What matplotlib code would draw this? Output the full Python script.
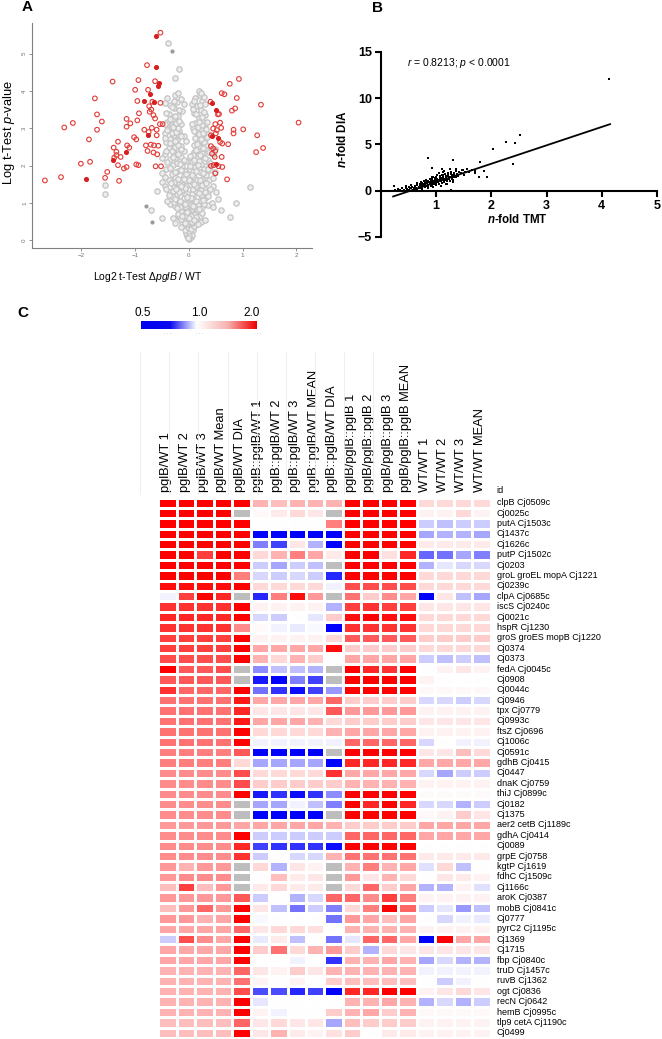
import matplotlib
matplotlib.use("Agg")
import matplotlib.pyplot as plt
import numpy as np
from matplotlib.colors import LinearSegmentedColormap
from matplotlib.lines import Line2D

plt.rcParams['font.family'] = ['Liberation Sans', 'DejaVu Sans']
plt.rcParams['mathtext.fontset'] = 'custom'
plt.rcParams['mathtext.rm'] = 'Liberation Sans'
plt.rcParams['mathtext.it'] = 'Liberation Sans:italic'
plt.rcParams['mathtext.bf'] = 'Liberation Sans:bold'
plt.rcParams['mathtext.bfit'] = 'Liberation Sans:italic:bold'

# ---------------- panel A: volcano plot (log2 ratio, -log p) ----------------
red_open = [(-0.53, 5.56), (-0.78, 4.69), (-1.42, 4.25), (-0.94, 4.29), (-0.63, 4.26), (-1.0, 4.03),
            (-0.76, 4.03), (-1.75, 3.80), (-0.96, 3.73), (-0.68, 3.71), (-0.74, 3.59), (-0.53, 3.68),
            (-1.71, 3.37), (-0.93, 3.40), (-0.73, 3.44), (-0.70, 3.50), (-0.66, 3.35), (-1.62, 3.18),
            (-2.16, 3.14), (-2.32, 3.02), (-1.16, 3.25), (-1.09, 3.13), (-1.16, 3.04), (-0.96, 3.21),
            (-0.63, 3.26), (-0.54, 3.11), (-0.49, 3.11), (-1.71, 2.96), (-0.83, 2.96), (-0.75, 2.90),
            (-0.69, 3.01), (-0.60, 2.96), (-0.60, 2.81), (-1.02, 2.76), (-0.98, 2.70), (-1.86, 2.70),
            (-1.32, 2.64), (-1.15, 2.54), (-1.11, 2.48), (-1.40, 2.48), (-0.80, 2.54), (-0.71, 2.56),
            (-0.65, 2.54), (-0.57, 2.53), (-1.35, 2.37), (-0.77, 2.39), (-0.66, 2.35), (-0.59, 2.30),
            (-1.35, 2.28), (-1.39, 2.21), (-1.27, 2.23), (-1.84, 2.10), (-2.01, 2.05), (-0.98, 2.03),
            (-0.94, 2.01), (-1.32, 2.01), (-1.21, 1.92), (-1.16, 1.96), (-0.62, 1.98), (-0.52, 1.98),
            (-1.52, 1.83), (-1.56, 1.67), (-1.30, 1.59), (-2.38, 1.69), (-2.68, 1.60),
            (0.40, 3.71), (0.54, 3.37), (0.56, 3.38), (0.61, 3.94), (0.66, 3.91), (0.76, 4.19),
            (0.93, 4.32), (0.89, 3.81), (0.86, 3.53), (0.80, 3.47), (1.34, 3.63), (2.04, 3.15),
            (0.49, 3.11), (0.58, 3.15), (0.45, 2.99), (0.52, 2.95), (0.60, 3.01), (0.41, 2.81),
            (0.50, 2.86), (0.58, 2.63), (0.62, 2.59), (0.83, 2.96), (1.01, 2.97), (0.83, 2.86),
            (1.27, 2.81), (0.73, 2.57), (0.41, 2.52), (0.45, 2.46), (0.49, 2.39), (0.43, 2.32),
            (0.48, 2.23), (0.61, 2.23), (1.25, 2.36), (1.38, 2.47), (0.41, 1.99), (0.46, 2.01),
            (0.55, 1.98), (0.62, 1.96), (0.49, 1.79), (0.71, 1.63)]
red_filled = [(-0.61, 5.47), (-0.61, 4.64), (-0.55, 4.22), (-0.57, 4.13), (-0.73, 3.91), (-0.84, 3.73),
              (-0.65, 3.70), (-0.77, 2.81), (-1.17, 2.36), (-1.42, 2.16), (-1.92, 1.63), (0.42, 3.68),
              (0.50, 3.48), (0.43, 2.79), (0.55, 2.75), (0.50, 2.04)]
gray_open = [
    (0.0, 0.02), (0.03, 0.08), (-0.03, 0.1), (0.05, 0.15), (-0.05, 0.18), (0.01, 0.22), (0.07, 0.26),
    (-0.07, 0.28), (0.02, 0.32), (-0.02, 0.36), (0.0, 0.12), (-0.01, 0.05), (0.04, 0.3), (-0.04, 0.42),
    (0.1, 0.38), (-0.1, 0.42), (0.05, 0.45), (-0.12, 0.5), (0.13, 0.52), (-0.05, 0.55), (0.08, 0.6),
    (-0.18, 0.62), (0.2, 0.65), (0.0, 0.68), (-0.25, 0.45), (0.22, 0.5), (0.12, 0.7), (-0.1, 0.72),
    (0.3, 0.55), (-0.3, 0.6), (0.02, 0.5), (-0.06, 0.64), (0.16, 0.42), (-0.15, 0.35),
    (-0.15, 0.78), (0.15, 0.8), (0.05, 0.84), (-0.05, 0.88), (0.25, 0.9), (-0.25, 0.92), (0.35, 0.95),
    (-0.35, 0.98), (0.1, 1.0), (-0.12, 1.02), (0.2, 1.05), (-0.2, 1.08), (0.0, 1.1), (0.3, 1.12),
    (-0.3, 1.15), (0.08, 1.18), (-0.08, 1.2), (0.42, 1.0), (-0.4, 1.05), (0.16, 0.95), (-0.17, 0.9),
    (0.03, 0.95), (-0.02, 0.78), (0.1, 0.88), (-0.1, 1.12), (0.24, 1.18),
    (0.22, 1.22), (-0.22, 1.25), (0.35, 1.28), (-0.35, 1.3), (0.12, 1.32), (-0.12, 1.35), (0.0, 1.38),
    (0.28, 1.4), (-0.28, 1.42), (0.45, 1.45), (-0.45, 1.46), (0.18, 1.5), (-0.18, 1.52), (0.05, 1.55),
    (-0.05, 1.58), (0.38, 1.6), (-0.38, 1.62), (0.25, 1.65), (-0.25, 1.68), (0.1, 1.7), (-0.1, 1.72),
    (0.32, 1.75), (-0.32, 1.78), (0.5, 1.3), (-0.5, 1.55), (0.06, 1.25), (-0.06, 1.45), (0.15, 1.6),
    (-0.15, 1.62), (0.22, 1.35), (-0.28, 1.56),
    (0.2, 1.82), (-0.2, 1.85), (0.4, 1.88), (-0.42, 1.9), (0.0, 1.92), (0.12, 1.95), (-0.12, 1.98),
    (0.3, 2.0), (-0.3, 2.02), (0.22, 2.05), (-0.22, 2.08), (0.05, 2.1), (-0.05, 2.12), (0.35, 2.15),
    (-0.35, 2.18), (0.15, 2.2), (-0.15, 2.22), (0.27, 2.25), (-0.27, 2.28), (0.45, 2.3), (-0.45, 2.32),
    (0.1, 2.35), (-0.1, 2.38), (0.2, 2.4), (-0.2, 2.42), (0.32, 2.45), (-0.38, 2.48), (0.28, 1.9),
    (-0.08, 1.86), (0.18, 2.12), (-0.25, 2.2), (0.08, 2.28), (-0.32, 2.4), (0.25, 2.34),
    (-0.15, 2.52), (0.1, 2.55), (-0.3, 2.58), (0.25, 2.6), (-0.42, 2.62), (0.18, 2.65), (-0.22, 2.68),
    (0.3, 2.7), (-0.35, 2.72), (0.12, 2.75), (-0.1, 2.78), (0.22, 2.8), (-0.28, 2.82), (0.35, 2.85),
    (-0.45, 2.88), (0.15, 2.9), (-0.18, 2.92), (0.28, 2.95), (-0.38, 2.98), (0.08, 3.0), (-0.25, 3.02),
    (0.2, 3.05), (-0.32, 3.08), (0.3, 3.1), (-0.15, 3.12), (0.12, 3.15), (-0.4, 3.18), (0.25, 3.2),
    (0.32, 2.55), (-0.2, 2.85), (0.22, 2.98), (-0.3, 2.95), (0.18, 2.52), (-0.05, 2.65),
    (-0.3, 3.25), (0.18, 3.28), (-0.2, 3.32), (0.3, 3.35), (-0.38, 3.38), (0.1, 3.42), (-0.12, 3.45),
    (0.22, 3.5), (-0.28, 3.55), (0.15, 3.6), (-0.35, 3.62), (0.05, 3.65), (-0.22, 3.7), (0.25, 3.72),
    (-0.15, 3.78), (0.12, 3.8), (-0.4, 3.82), (0.2, 3.88), (0.18, 4.0), (-0.25, 3.9), (0.28, 3.85),
    (-0.39, 5.29), (-0.19, 4.58), (-0.25, 4.35), (-1.57, 1.49), (-1.57, 1.25), (1.13, 1.42),
    (0.88, 0.99), (0.76, 0.63), (-0.70, 0.82), (-0.59, 1.31), (0.45, 0.9), (0.6, 0.8), (-0.5, 0.6),
    (0.55, 1.1)]
gray_core = [
    (-0.08, 0.46), (0.06, 0.5), (-0.14, 0.58), (0.14, 0.62), (0.04, 0.66), (-0.2, 0.7), (0.24, 0.74),
    (-0.04, 0.76), (0.18, 0.84), (-0.22, 0.86), (0.08, 0.92), (-0.08, 0.96), (0.28, 0.98), (-0.28, 1.02),
    (0.0, 0.6), (0.1, 0.55), (-0.12, 0.64),
    (0.14, 1.04), (-0.16, 1.06), (0.26, 1.08), (-0.26, 1.1), (0.04, 1.14), (-0.04, 1.16), (0.36, 1.18),
    (-0.38, 1.2), (0.18, 1.26), (-0.18, 1.28), (0.3, 1.3), (-0.3, 1.32), (0.08, 1.36), (-0.08, 1.4),
    (0.4, 1.36), (-0.42, 1.38), (0.14, 1.44), (-0.14, 1.46), (0.24, 1.48), (-0.24, 1.36),
    (0.32, 1.52), (-0.34, 1.54), (0.0, 1.6), (0.2, 1.62), (-0.2, 1.64), (0.44, 1.66), (-0.44, 1.7),
    (0.06, 1.74), (-0.06, 1.78), (0.26, 1.8), (-0.26, 1.82), (0.14, 1.86), (-0.14, 1.88), (0.36, 1.92),
    (-0.36, 1.94), (0.02, 1.98), (0.48, 1.84), (-0.5, 1.8), (0.1, 1.5), (-0.1, 1.65),
    (0.16, 2.02), (-0.16, 2.04), (0.4, 2.06), (-0.4, 2.1), (0.1, 2.14), (-0.1, 2.16), (0.3, 2.2),
    (-0.3, 2.24), (0.2, 2.28), (-0.2, 2.3), (0.38, 2.36), (-0.42, 2.38), (0.14, 2.42), (-0.14, 2.44),
    (0.26, 2.48), (-0.26, 2.5), (0.02, 2.25), (0.48, 2.44), (-0.5, 2.2),
    (-0.2, 2.56), (0.15, 2.58), (-0.36, 2.6), (0.28, 2.62), (-0.26, 2.66), (0.22, 2.7), (-0.44, 2.74),
    (0.34, 2.76), (-0.14, 2.8), (0.18, 2.84), (-0.32, 2.86), (0.26, 2.88), (-0.24, 2.9), (0.1, 2.92),
    (-0.4, 2.94), (0.32, 2.98), (-0.2, 3.0), (0.16, 3.02), (-0.3, 3.04), (0.24, 3.08), (-0.45, 3.1),
    (0.06, 3.12), (-0.24, 3.14), (0.34, 3.16), (-0.18, 3.2), (0.18, 3.18),
    (-0.35, 3.26), (0.24, 3.3), (-0.25, 3.34), (0.14, 3.38), (-0.42, 3.42), (0.28, 3.44), (-0.18, 3.48),
    (0.08, 3.52), (-0.32, 3.58), (0.2, 3.62), (-0.1, 3.66), (0.3, 3.66), (-0.28, 3.74), (0.1, 3.74),
    (-0.45, 3.68), (0.22, 3.95), (-0.2, 3.95)]
gray_filled = [(-0.31, 5.06), (-0.80, 0.91), (-0.69, 0.49)]

# ---------------- panel B: n-fold TMT vs n-fold DIA ----------------
tmt_dia = [
    (0.3, 0.15), (0.35, 0.05), (0.38, 0.25), (0.42, 0.1), (0.45, 0.3), (0.48, 0.2), (0.5, 0.05),
    (0.52, 0.35), (0.55, 0.25), (0.57, 0.45), (0.6, 0.3), (0.6, 0.15), (0.62, 0.5), (0.64, 0.35),
    (0.66, 0.6), (0.68, 0.45), (0.7, 0.3), (0.7, 0.7), (0.72, 0.55), (0.74, 0.4), (0.75, 0.8),
    (0.76, 0.65), (0.78, 0.5), (0.8, 0.9), (0.8, 0.7), (0.82, 0.55), (0.83, 1.0), (0.84, 0.8),
    (0.85, 0.6), (0.86, 1.1), (0.87, 0.9), (0.88, 0.7), (0.9, 1.2), (0.9, 1.0), (0.9, 0.8),
    (0.92, 0.6), (0.93, 1.3), (0.94, 1.1), (0.95, 0.9), (0.96, 0.7), (0.97, 1.4), (0.98, 1.2),
    (1.0, 1.0), (1.0, 0.8), (1.0, 1.5), (1.02, 1.3), (1.03, 1.1), (1.04, 0.9), (1.05, 0.7),
    (1.06, 1.6), (1.07, 1.4), (1.08, 1.2), (1.09, 1.0), (1.1, 0.8), (1.1, 1.7), (1.12, 1.5),
    (1.13, 1.3), (1.14, 1.1), (1.15, 0.9), (1.16, 1.8), (1.17, 1.6), (1.18, 1.4), (1.19, 1.2),
    (1.2, 1.0), (1.21, 1.9), (1.22, 1.7), (1.23, 1.5), (1.24, 1.3), (1.25, 1.1), (1.26, 2.0),
    (1.27, 1.8), (1.28, 1.6), (1.29, 1.4), (1.3, 1.2), (1.32, 1.9), (1.33, 1.7), (1.35, 1.5),
    (1.36, 2.1), (1.38, 1.8), (1.4, 1.6), (1.42, 2.0), (1.45, 1.9), (1.48, 2.2), (1.5, 1.7),
    (1.52, 2.0), (1.55, 2.3), (0.25, 0.1), (0.45, 0.5), (0.55, 0.6), (0.65, 0.8), (0.78, 1.1),
    (0.88, 1.3), (0.95, 1.5), (1.05, 1.9), (1.15, 2.1), (0.85, 0.3), (0.95, 0.4), (1.08, 0.55),
    (1.2, 0.7), (1.3, 0.9), (1.6, 2.0), (1.65, 2.2), (1.7, 1.9), (0.72, 0.95), (0.82, 1.2),
    (1.12, 2.0), (1.25, 2.3), (1.35, 2.4), (1.0, 0.6), (0.92, 1.45), (1.18, 0.75),
    (0.75, 0.6), (0.85, 0.95), (0.95, 1.05), (1.05, 1.15), (1.15, 1.25), (1.25, 1.45), (0.8, 0.4),
    (0.9, 0.5), (1.0, 1.2), (1.1, 1.35), (1.2, 1.55), (1.3, 1.65), (0.7, 0.5), (0.78, 0.75),
    (0.88, 0.85), (0.98, 0.95), (1.08, 1.05), (1.18, 1.15), (1.28, 1.25), (0.92, 1.15), (1.02, 1.65),
    (1.12, 1.75), (1.22, 1.85), (1.32, 1.45), (0.65, 0.2), (0.75, 0.2), (0.85, 0.45), (0.4, 0.0),
    (0.5, 0.4), (0.58, 0.1),
    (4.13, 12.07), (2.52, 6.0), (2.26, 5.25), (2.42, 5.18), (2.02, 4.5), (2.39, 2.9), (1.80, 3.08),
    (1.92, 1.45), (1.77, 1.45), (0.86, 3.5), (1.31, 3.33), (0.23, 0.5), (1.26, 0.07), (0.93, 2.5),
    (1.11, 2.36), (1.46, 2.2), (1.70, 2.1), (1.86, 2.15)]
fit_x = [0.22, 4.15]
fit_y = [-0.62, 7.2]

# ---------------- panel C: heatmap (log2 ratio, None = not quantified) ----------------
protein_ids = ["clpB Cj0509c", "Cj0025c", "putA Cj1503c", "Cj1437c", "Cj1626c", "putP Cj1502c",
               "Cj0203", "groL groEL mopA Cj1221", "Cj0239c", "clpA Cj0685c", "iscS Cj0240c",
               "Cj0021c", "hspR Cj1230", "groS groES mopB Cj1220", "Cj0374", "Cj0373",
               "fedA Cj0045c", "Cj0908", "Cj0044c", "Cj0946", "tpx Cj0779", "Cj0993c",
               "ftsZ Cj0696", "Cj1006c", "Cj0591c", "gdhB Cj0415", "Cj0447", "dnaK Cj0759",
               "thiJ Cj0899c", "Cj0182", "Cj1375", "aer2 cetB Cj1189c", "gdhA Cj0414", "Cj0089",
               "grpE Cj0758", "kgtP Cj1619", "fdhC Cj1509c", "Cj1166c", "aroK Cj0387",
               "mobB Cj0841c", "Cj0777", "pyrC2 Cj1195c", "Cj1369", "Cj1715", "fbp Cj0840c",
               "truD Cj1457c", "ruvB Cj1362", "ogt Cj0836", "recN Cj0642", "hemB Cj0995c",
               "tlp9 cetA Cj1190c", "Cj0499"]
columns = ["pglB/WT 1", "pglB/WT 2", "pglB/WT 3", "pglB/WT Mean", "pglB/WT DIA",
           "pglB::pglB/WT 1", "pglB::pglB/WT 2", "pglB::pglB/WT 3", "pglB::pglB/WT MEAN",
           "pglB::pglB/WT DIA", "pglB/pglB::pglB 1", "pglB/pglB::pglB 2", "pglB/pglB::pglB 3",
           "pglB/pglB::pglB MEAN", "WT/WT 1", "WT/WT 2", "WT/WT 3", "WT/WT MEAN"]

pglb_wt = [
    [1, 1, 1, 1, 1], [1, 1, 1, 1, None], [1, 1, 1, 1, 1], [1, 1, 1, 1, 1], [1, 1, 1, 1, 1],
    [1, 1, .75, 1, 1], [1, 1, 1, 1, 1], [1, 1, 1, 1, .5], [.95, .95, .95, .95, 1],
    [-.05, .75, 1, .85, None], [.8, .8, .8, .8, 1], [.85, .85, .85, .85, 1], [.8, .8, .8, .8, .45],
    [.75, .75, .75, .75, 1], [.75, .75, .75, .75, 1], [.7, .7, .7, .7, 1], [1, .65, .65, .7, None],
    [.65, .65, .65, .65, None], [.8, .6, .6, .6, 1], [.55, .55, .55, .55, .9], [.55, .55, .55, .55, .85],
    [.55, .55, .55, .55, .9], [.55, .55, .55, .55, 1], [.55, .55, .55, .55, 1], [.5, .5, .5, .5, .65],
    [.5, .5, .5, .5, .15], [.45, .45, .45, .45, .7], [.45, .45, .45, .45, .7], [.45, .45, .45, .45, 1],
    [.45, .45, .45, .45, None], [.45, .45, .45, .45, None], [.4, .4, .4, .4, .35], [.45, .45, .45, .45, 1],
    [.45, .45, .45, .45, .85], [.45, .45, .45, .45, .8], [.4, .3, .4, .4, None], [.4, .45, .45, .45, None],
    [.25, .75, .25, .4, None], [.4, .4, .4, .4, .65], [.25, .4, .6, .4, 1], [.4, .4, .3, .35, 1],
    [.35, .35, .35, .35, .6], [-.2, .7, .45, .35, 1], [.35, .35, .35, .35, 1], [.35, .35, .35, .35, 1],
    [.3, .3, .3, .3, .6], [.3, .3, .3, .3, .55], [.3, .3, .3, .3, .7], [.3, .3, .3, .3, 1],
    [.3, .3, .3, .3, 1], [.25, .25, .25, .25, .6], [.25, .25, .25, .25, 1]]
comp_wt = [
    [.3, .25, .3, .3, .3], [.03, .08, .15, .1, None], [0, 0, 0, 0, .5], [-1, -1, -1, -1, -1],
    [-.5, -.75, .1, -.3, -1], [.15, .3, .5, .35, .08], [-.2, -.35, -.2, -.25, None],
    [-.15, -.2, -.15, -.2, -.85], [.15, .15, .15, .15, -.05], [-.85, .5, .95, .4, None],
    [.05, .05, .05, .05, -.3], [-.15, -.2, 0, -.1, .2], [.02, -.05, -.08, -.03, -1],
    [.05, .05, .05, .05, .15], [.35, .35, .35, .35, .95], [.3, .15, .3, .2, 0],
    [-.45, -.25, -.25, -.3, None], [-.9, -1, -.5, -.75, None], [-.55, -.8, -.95, -.75, -.4],
    [.35, .35, .35, .35, .6], [.1, .1, .1, .1, .65], [.35, .35, .35, .3, .15], [.15, .15, .15, .15, .3],
    [-.05, -.05, -.05, -.05, -.05], [-1, -1, -1, -1, None], [-.35, -.35, -.35, -.35, -1],
    [.15, .15, .15, .15, .8], [.2, .2, .2, .2, .2], [-.9, -.8, -.95, -.8, -.45],
    [-.35, -.35, -.05, -.25, -.5], [-1, -1, -1, -1, None], [.35, .35, .35, .35, .3],
    [-.2, -.2, -.2, -.2, -.2], [-.75, -.8, -.8, -.8, -.95], [-.2, 0, -.15, -.15, .3],
    [.15, -.3, .1, .05, None], [0, .25, .08, .1, None], [.08, .15, .08, .08, None],
    [-.2, 0, -.3, -.15, .6], [.1, -.25, -.55, -.2, -.5], [-.03, 0, 0, 0, -.55],
    [.1, .15, .15, .12, 0], [-.08, .08, -.25, 0, -.55], [.2, .55, .15, .3, .4], [0, 0, -.05, 0, -.8],
    [.1, .05, .2, .1, .3], [.05, 0, .05, 0, .2], [-.7, -.7, -.85, -.75, -1], [-.1, 0, 0, 0, 0],
    [.05, -.05, 0, 0, .2], [.1, .15, .1, .1, -.35], [.1, .3, .08, .05, .12]]
pglb_comp = [
    [1, 1, 1, 1], [1, 1, 1, 1], [1, 1, 1, 1], [1, 1, 1, 1], [1, 1, 1, 1], [1, 1, .12, .85],
    [1, 1, 1, 1], [1, 1, 1, 1], [.7, .7, .7, .7], [.55, .2, .45, .35], [.75, .8, .75, .75],
    [.95, 1, .95, .95], [.8, .8, .8, .8], [.65, .65, .65, .65], [.2, .2, .2, .2], [.35, .35, .35, .35],
    [1, .85, .8, 1], [1, 1, 1, 1], [1, 1, 1, 1], [.2, .2, .2, .2], [.4, .4, .4, .4], [.2, .2, .2, .2],
    [.35, .35, .35, .35], [.6, .6, .6, .6], [1, 1, 1, 1], [.85, .85, .85, .85], [.35, .35, .35, .35],
    [.3, .3, .3, .3], [1, 1, 1, 1], [1, .85, 1, .85], [1, 1, 1, 1], [.2, .2, .2, .2], [.6, .6, .6, .6],
    [1, 1, 1, 1], [.55, .55, .55, .55], [.3, .5, .3, .35], [.4, .1, .3, .15], [.15, .6, .2, .35],
    [.6, .45, .75, .5], [.15, .5, 1, .6], [.4, .35, .25, .35], [.3, .3, .3, .3], [-.1, .6, .6, .35],
    [.2, -.3, .15, .1], [.3, .3, .35, .3], [.3, .3, .3, .3], [.25, .25, .25, .25], [.85, .85, 1, 1],
    [.3, .3, .35, .3], [.3, .35, .2, .3], [.25, .2, .2, .2], [.2, 0, .08, .08]]
wt_wt = [
    [.15, .15, .15, .15], [.05, .05, .15, .05], [-.2, -.25, -.2, -.2], [-.35, -.3, -.3, -.35],
    [.08, .08, .08, .08], [-.6, -.55, -.35, -.5], [-.3, -.1, -.15, -.15], [.15, .15, .15, .15],
    [.15, .15, .15, .15], [-1, .1, -.25, -.35], [.1, .1, .1, .1], [.15, .15, .15, .15],
    [.15, .15, .15, .15], [.2, .2, .2, .2], [.15, .15, .15, .15], [-.2, -.25, -.2, -.25],
    [0, .05, .1, .05], [.05, 0, 0, 0], [.03, .03, .03, .03], [-.15, -.15, -.2, -.15],
    [.05, .05, .05, .05], [.1, .1, .1, .1], [.05, .05, .05, .05], [-.15, 0, -.05, -.05],
    [.1, .1, .25, .15], [.35, .35, .35, .35], [-.15, -.35, -.2, -.2], [.05, .05, .05, .05],
    [.02, .02, .02, .02], [-.15, -.15, -.3, -.2], [.03, .05, .2, .1], [.35, .35, .35, .35],
    [.35, .35, .35, .35], [0, 0, 0, 0], [.08, .08, .08, .08], [-.12, .15, -.25, 0], [0, .1, .08, .05],
    [-.3, -.3, .05, -.12], [.05, .05, .05, .05], [-.2, -.1, -.4, -.25], [0, -.15, -.05, -.08],
    [.05, .05, .05, .05], [-1, 1, .35, .35], [.1, .1, .1, .1], [-.35, -.15, -.3, -.3],
    [-.05, -.05, -.05, -.05], [0, -.2, -.05, 0], [.05, .1, .15, .1], [-.3, -.15, -.3, -.2],
    [.03, .03, .03, .03], [.05, .05, .05, .05], [.05, .05, .05, .05]]
colorbar_ticks = ["0.5", "1.0", "2.0"]

# ---------------- figure ----------------
W, H = 662, 1039
fig = plt.figure(figsize=(W / 100, H / 100), dpi=100)


def rect(l, t, r, b):
    return [l / W, 1 - b / H, (r - l) / W, (b - t) / H]


def fx(x):
    return x / W


def fy(y):
    return 1 - y / H


# panel A
axA = fig.add_axes(rect(32, 23, 312, 248))
g = np.array(gray_open + gray_core)
axA.scatter(g[:, 0], g[:, 1], s=15, facecolors='#ededed', edgecolors='#c4c4c4', linewidths=0.9, zorder=2)
gf = np.array(gray_filled)
axA.scatter(gf[:, 0], gf[:, 1], s=4, color='#9a9a9a', zorder=2)
r = np.array(red_open)
axA.scatter(r[:, 0], r[:, 1], s=11, facecolors='none', edgecolors='#e23a36', linewidths=0.8, zorder=3)
rf = np.array(red_filled)
axA.scatter(rf[:, 0], rf[:, 1], s=7, color='#d81e1e', zorder=3)
axA.set_xlim(-2.92, 2.29)
axA.set_ylim(-0.21, 5.82)
for s in ['top', 'right']:
    axA.spines[s].set_visible(False)
for s in ['left', 'bottom']:
    axA.spines[s].set_color('#808080')
    axA.spines[s].set_linewidth(0.8)
axA.set_xticks([-2, -1, 0, 1, 2])
axA.set_yticks([0, 1, 2, 3, 4, 5])
axA.tick_params(length=2, width=0.6, colors='#808080', labelsize=4.5, labelcolor='#707070', pad=1.5)
for lab in axA.get_yticklabels():
    lab.set_rotation(90)
    lab.set_va('center')
fig.text(fx(9), fy(132), 'Log t-Test $p$-value', rotation=90, ha='center', va='center', fontsize=9.3)
fig.text(fx(148), fy(277), r'Log2 t-Test $\Delta pglB$ / WT', ha='center', va='center', fontsize=7.5)
fig.text(fx(22), fy(7), 'A', fontsize=11, fontweight='bold', ha='left', va='center')

# panel B
axB = fig.add_axes(rect(381, 52, 657, 237))
b = np.array(tmt_dia)
axB.scatter(b[:, 0], b[:, 1], s=3, marker='s', color='black', linewidths=0, zorder=3)
axB.plot(fit_x, fit_y, color='black', lw=1.3, zorder=4)
axB.set_xlim(0, 5)
axB.set_ylim(-5, 15)
axB.spines['top'].set_visible(False)
axB.spines['right'].set_visible(False)
axB.spines['bottom'].set_position(('data', 0))
axB.spines['left'].set_linewidth(1.5)
axB.spines['bottom'].set_linewidth(1.5)
axB.set_xticks([1, 2, 3, 4, 5])
axB.set_yticks([-5, 0, 5, 10, 15])
axB.tick_params(direction='out', length=4, width=1.5, labelsize=9, pad=2.5)
for lab in axB.get_xticklabels() + axB.get_yticklabels():
    lab.set_fontweight('bold')
fig.text(fx(343), fy(139), r'$\mathbfit{n}$-fold DIA', rotation=90, ha='center', va='center',
         fontsize=8.5, fontweight='bold')
fig.text(fx(517), fy(219.5), r'$\mathbfit{n}$-fold TMT', ha='center', va='center', fontsize=8.3,
         fontweight='bold')
fig.text(fx(407), fy(63), '$r$ = 0.8213; $p$ < 0.0001', ha='left', va='center', fontsize=7.5)
fig.text(fx(372), fy(8), 'B', fontsize=11, fontweight='bold', ha='left', va='center')

# panel C: colorbar
fig.text(fx(17), fy(313), 'C', fontsize=11, fontweight='bold', ha='left', va='center')
cb_cmap = LinearSegmentedColormap.from_list(
    'cb', [(0.0, '#0000f0'), (0.25, '#0a0af0'), (0.48, '#ffffff'), (0.75, '#f8b0b0'), (1.0, '#f00000')])
axCb = fig.add_axes(rect(141, 321, 257, 329))
axCb.imshow(np.linspace(0, 1, 256)[None, :], aspect='auto', cmap=cb_cmap)
axCb.axis('off')
for t, xp in zip(colorbar_ticks, [143, 199, 252]):
    fig.text(fx(xp), fy(313), t, ha='center', va='center', fontsize=8.5)
for xp in [168, 200, 258]:
    fig.text(fx(xp), fy(333), '. . .', ha='center', va='center', fontsize=4, color='#909090')

# faint sheet grid in the header area
for xp in [140, 169, 198, 228, 257, 286, 315, 344, 373]:
    fig.add_artist(Line2D([fx(xp), fx(xp)], [fy(352), fy(494)], color='#ebebeb', lw=0.6))

# heatmap
values = np.array([a + c + d + e for a, c, d, e in zip(pglb_wt, comp_wt, pglb_comp, wt_wt)],
                  dtype=float)
data = np.ma.masked_invalid(values)
hm_cmap = LinearSegmentedColormap.from_list('bwr2', ['#0000ff', '#ffffff', '#ff0000'])
hm_cmap.set_bad('#bdbdbd')
axH = fig.add_axes(rect(158.3, 497.5, 490.6, 1038))
axH.pcolormesh(np.arange(len(columns) + 1), np.arange(len(protein_ids) + 1), data,
               cmap=hm_cmap, vmin=-1, vmax=1, edgecolors='white', linewidth=0.75)
axH.set_xlim(0, len(columns))
axH.set_ylim(len(protein_ids), 0)
axH.axis('off')
for j, c in enumerate(columns):
    axH.text(j + 0.42, -0.5, c, rotation=90, ha='center', va='bottom', fontsize=9.3)
for i, p in enumerate(protein_ids):
    axH.text(18.33, i + 0.5, p, ha='left', va='center', fontsize=6.5)
axH.text(18.33, -0.7, 'id', ha='left', va='center', fontsize=6.5)

fig.savefig('out.png', dpi=100)
